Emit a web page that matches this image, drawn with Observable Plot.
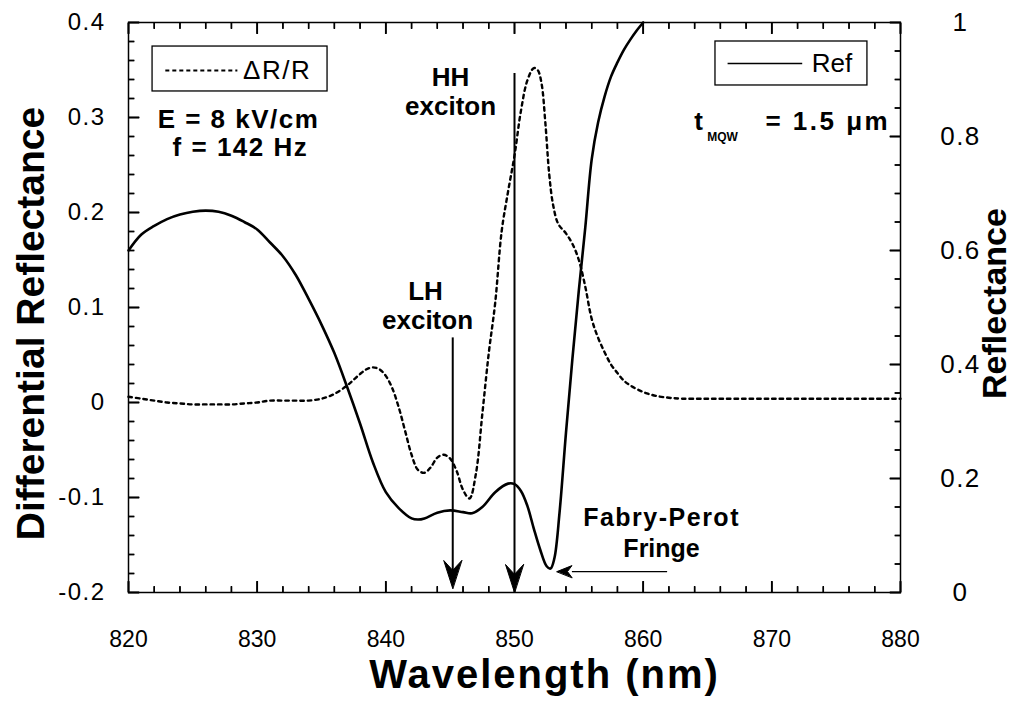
<!DOCTYPE html>
<html>
<head>
<meta charset="utf-8">
<script src="https://cdn.jsdelivr.net/npm/d3@7"></script>
<script src="https://cdn.jsdelivr.net/npm/@observablehq/plot@0.6"></script>
<style>
  html, body { margin: 0; padding: 0; background: #fff; }
  svg { display: block; }
</style>
</head>
<body>
<script>
// ---- Data ----
// Reflectance ("Ref", right axis 0..1)
const refWavelength = [820, 821, 822, 823, 824, 825, 826, 827, 828, 829, 830, 831, 832, 833, 834, 835, 836, 837, 838, 839, 840, 841, 842, 842.5, 843, 844, 845, 846, 846.7, 847.5, 848.5, 849.5, 850, 850.5, 851, 851.5, 852, 852.5, 852.8, 853.1, 853.5, 854, 854.5, 855, 855.5, 856, 856.5, 857, 857.5, 858, 858.5, 859, 859.5, 860];
const refValues = [0.600, 0.628, 0.643, 0.655, 0.663, 0.668, 0.670, 0.668, 0.661, 0.650, 0.637, 0.614, 0.590, 0.557, 0.515, 0.470, 0.420, 0.360, 0.296, 0.228, 0.176, 0.148, 0.130, 0.128, 0.130, 0.140, 0.144, 0.141, 0.139, 0.150, 0.176, 0.191, 0.190, 0.178, 0.152, 0.112, 0.075, 0.046, 0.042, 0.060, 0.140, 0.280, 0.410, 0.530, 0.640, 0.760, 0.825, 0.870, 0.905, 0.930, 0.952, 0.970, 0.986, 1.000];

// Differential reflectance (ΔR/R, left axis)
const drWavelength = [820, 821, 822, 823, 824, 825, 826, 827, 828, 829, 830, 831, 832, 833, 834, 835, 836, 837, 837.5, 838, 838.5, 839, 839.5, 840, 840.5, 841, 841.5, 842, 842.5, 843, 843.5, 844, 844.5, 845, 845.5, 846, 846.5, 847, 847.5, 848, 848.5, 849, 849.5, 850, 850.5, 851, 851.5, 851.8, 852.1, 852.4, 852.7, 853, 853.4, 854, 854.5, 855, 855.5, 856, 856.5, 857, 857.5, 858, 858.5, 859, 860, 861, 862, 863, 865, 870, 875, 880];
const drValues = [0.006, 0.004, 0.002, 0.000, -0.001, -0.002, -0.002, -0.002, -0.002, -0.001, 0.000, 0.002, 0.002, 0.002, 0.002, 0.004, 0.009, 0.018, 0.024, 0.030, 0.035, 0.037, 0.035, 0.028, 0.015, -0.005, -0.030, -0.055, -0.071, -0.074, -0.068, -0.058, -0.055, -0.059, -0.072, -0.092, -0.101, -0.075, -0.012, 0.052, 0.105, 0.180, 0.222, 0.260, 0.307, 0.339, 0.352, 0.350, 0.336, 0.294, 0.240, 0.208, 0.188, 0.178, 0.167, 0.150, 0.122, 0.088, 0.068, 0.053, 0.040, 0.031, 0.023, 0.018, 0.011, 0.007, 0.005, 0.004, 0.004, 0.004, 0.004, 0.004];

// Tick values / labels
const xTicks = [820, 830, 840, 850, 860, 870, 880];
const xMinorTicks = [822, 824, 826, 828, 832, 834, 836, 838, 842, 844, 846, 848, 852, 854, 856, 858, 862, 864, 866, 868, 872, 874, 876, 878];
const leftTicks = [-0.2, -0.1, 0, 0.1, 0.2, 0.3, 0.4];
const leftMinorTicks = [-0.18, -0.16, -0.14, -0.12, -0.08, -0.06, -0.04, -0.02, 0.02, 0.04, 0.06, 0.08, 0.12, 0.14, 0.16, 0.18, 0.22, 0.24, 0.26, 0.28, 0.32, 0.34, 0.36, 0.38];
const rightTicks = [0, 0.2, 0.4, 0.6, 0.8, 1];
const rightMinorTicks = [0.05, 0.1, 0.15, 0.25, 0.3, 0.35, 0.45, 0.5, 0.55, 0.65, 0.7, 0.75, 0.85, 0.9, 0.95];

// Right axis (Reflectance 0..1) mapped onto left axis (-0.2..0.4)
const toLeft = r => r * 0.6 - 0.2;
const toRight = v => (v + 0.2) / 0.6;

const refData = refWavelength.map((w, i) => ({wl: w, r: refValues[i]}));
const drData = drWavelength.map((w, i) => ({wl: w, v: drValues[i]}));

const FONT = "'Liberation Sans', Arial, Helvetica, sans-serif";

const W = 1014, H = 702, ML = 128, MR = 114, MT = 22, MB = 110;
const FW = W - ML - MR, FH = H - MT - MB;
const XA = 820, XB = 880, YA = -0.2, YB = 0.4;
const pxX = p => (XB - XA) * p / FW;
const pxY = p => (YB - YA) * p / FH;

const dart = (w, notch) => ({draw(ctx, l) {
  ctx.moveTo(0, -l); ctx.lineTo(w, 0); ctx.lineTo(0, -l * notch); ctx.lineTo(-w, 0); ctx.closePath();
}});

const fmtLeft = d => Math.abs(d) < 1e-9 ? "0" : String(+d.toFixed(1));
const fmtRight = d => { const r = +toRight(d).toFixed(1); return r === 0 ? "0" : String(r); };
const blank = () => "";

// inward tick segments (tables built from the tick arrays)
const segs = [];
for (const v of xTicks) {
  segs.push({x1: v, x2: v, y1: YA, y2: YA + pxY(11)});
  segs.push({x1: v, x2: v, y1: YB, y2: YB - pxY(11)});
}
for (const v of xMinorTicks) {
  segs.push({x1: v, x2: v, y1: YA, y2: YA + pxY(6)});
  segs.push({x1: v, x2: v, y1: YB, y2: YB - pxY(6)});
}
for (const v of leftTicks) segs.push({x1: XA, x2: XA + pxX(11), y1: v, y2: v});
for (const v of leftMinorTicks) segs.push({x1: XA, x2: XA + pxX(6), y1: v, y2: v});
for (const r of rightTicks) segs.push({x1: XB, x2: XB - pxX(11), y1: toLeft(r), y2: toLeft(r)});
for (const r of rightMinorTicks) segs.push({x1: XB, x2: XB - pxX(6), y1: toLeft(r), y2: toLeft(r)});

// axis-mark ticks shifted inward (tick only, blank text)
const inTicks = (dim, anchor, ticks, len, sw) => {
  const shift = anchor === "bottom" ? {dy: -len} : anchor === "top" ? {dy: len} : anchor === "left" ? {dx: len} : {dx: -len};
  const opts = {anchor, ticks, tickSize: len, tickFormat: blank, label: null, strokeWidth: sw, stroke: "black", ...shift};
  return dim === "x" ? Plot.axisX(opts) : Plot.axisY(opts);
};

const chart = Plot.plot({
  width: W,
  height: H,
  marginLeft: ML,
  marginRight: MR,
  marginTop: MT,
  marginBottom: MB,
  x: {domain: [XA, XB]},
  y: {domain: [YA, YB]},
  style: {fontFamily: FONT, background: "white", color: "black", overflow: "visible"},
  marks: [
    Plot.frame({stroke: "black", strokeWidth: 1.5, fill: "none"}),

    // Axes labels
    Plot.axisX({ticks: xTicks, tickSize: 0, tickPadding: 38, fontSize: 23, label: null, tickFormat: d => String(d)}),
    Plot.axisY({anchor: "left", ticks: leftTicks, tickSize: 0, tickPadding: 23, fontSize: 24, label: null, tickFormat: fmtLeft}),
    Plot.axisY({anchor: "right", ticks: rightTicks.map(toLeft), tickSize: 0, tickPadding: 60, fontSize: 26, label: null, textAnchor: "middle", tickFormat: fmtRight}),

    // inward ticks
    inTicks("x", "bottom", xTicks, 11, 1.8), inTicks("x", "bottom", xMinorTicks, 6, 1.4),
    inTicks("x", "top", xTicks, 11, 1.8), inTicks("x", "top", xMinorTicks, 6, 1.4),
    inTicks("y", "left", leftTicks, 11, 1.8), inTicks("y", "left", leftMinorTicks, 6, 1.4),
    inTicks("y", "right", rightTicks.map(toLeft), 11, 1.8), inTicks("y", "right", rightMinorTicks.map(toLeft), 6, 1.4),
    Plot.link(segs, {x1: "x1", y1: "y1", x2: "x2", y2: "y2", stroke: "#000", strokeWidth: 1.5}),

    // Axis titles
    Plot.text(["Wavelength (nm)"], {frameAnchor: "bottom", dx: 30, dy: 83, fontSize: 40, fontWeight: "bold", lineAnchor: "middle", textAnchor: "middle"}),
    Plot.text(["Differential Reflectance"], {frameAnchor: "left", dx: -97, dy: 16, rotate: -90, fontSize: 39, fontWeight: "bold", lineAnchor: "middle", textAnchor: "middle"}),
    Plot.text(["Reflectance"], {frameAnchor: "right", dx: 95, dy: -4, rotate: -90, fontSize: 34, fontWeight: "bold", lineAnchor: "middle", textAnchor: "middle"}),

    // Data curves
    Plot.line(drData, {x: "wl", y: "v", curve: "catmull-rom", stroke: "black", strokeWidth: 2.4, strokeDasharray: "3.5,4"}),
    Plot.line(refData, {x: "wl", y: d => toLeft(d.r), curve: "catmull-rom", stroke: "black", strokeWidth: 2.6}),

    // Exciton arrows
    Plot.ruleX([845.2], {y1: 0.068, y2: -0.18, stroke: "black", strokeWidth: 2}),
    Plot.vector([845.2], {x: d => d, y: -0.1958, length: 28, rotate: 180, anchor: "end", shape: dart(9, 0.35), fill: "black", stroke: "black", strokeWidth: 1}),
    Plot.ruleX([850], {y1: 0.3463, y2: -0.185, stroke: "black", strokeWidth: 2}),
    Plot.vector([850], {x: d => d, y: -0.2, length: 28, rotate: 180, anchor: "end", shape: dart(9, 0.35), fill: "black", stroke: "black", strokeWidth: 1}),

    // Fabry-Perot arrow
    Plot.ruleY([-0.178], {x1: 861.9, x2: 854.5, stroke: "black", strokeWidth: 1.2}),
    Plot.vector([853.3], {x: d => d, y: -0.178, length: 15, rotate: -90, anchor: "end", shape: dart(6, 0.3), fill: "black", stroke: "black", strokeWidth: 1}),

    // Annotation texts
    Plot.text(["HH"], {x: 845.03, y: 0.342, fontSize: 26, fontWeight: "bold"}),
    Plot.text(["exciton"], {x: 845.03, y: 0.3116, fontSize: 26, fontWeight: "bold"}),
    Plot.text(["LH"], {x: 843.08, y: 0.1168, fontSize: 26, fontWeight: "bold"}),
    Plot.text(["exciton"], {x: 843.24, y: 0.0863, fontSize: 26, fontWeight: "bold"}),
    Plot.text(["Fabry-Perot"], {x: 861.43, y: -0.1221, fontSize: 25, fontWeight: "bold"}),
    Plot.text(["Fringe"], {x: 861.43, y: -0.1537, fontSize: 25, fontWeight: "bold"}),
    Plot.text(["E = 8 kV/cm"], {x: 828.55, y: 0.2979, fontSize: 26, fontWeight: "bold"}),
    Plot.text(["f = 142 Hz"], {x: 828.7, y: 0.2684, fontSize: 26, fontWeight: "bold"}),
    Plot.text(["t"], {x: 864.3, y: 0.2958, fontSize: 26, fontWeight: "bold"}),
    Plot.text(["MQW"], {x: 866.17, y: 0.279, fontSize: 12, fontWeight: "bold"}),
    Plot.text(["= 1.5 μm"], {x: 869.5, y: 0.2958, fontSize: 26, fontWeight: "bold", textAnchor: "start"}),

    // Legend boxes
    Plot.rect([0], {x1: 821.87, x2: 835.47, y1: 0.3274, y2: 0.3747, fill: "white", stroke: "black", strokeWidth: 1.3}),
    Plot.ruleY([0.3495], {x1: 822.9, x2: 828.5, stroke: "black", strokeWidth: 1.8, strokeDasharray: "4,3"}),
    Plot.text(["ΔR/R"], {x: 828.9, y: 0.3495, fontSize: 26, textAnchor: "start"}),
    Plot.rect([0], {x1: 865.62, x2: 877.43, y1: 0.3337, y2: 0.380, fill: "white", stroke: "black", strokeWidth: 1.3}),
    Plot.ruleY([0.3568], {x1: 866.6, x2: 872.4, stroke: "black", strokeWidth: 1.5}),
    Plot.text(["Ref"], {x: 873.1, y: 0.3568, fontSize: 26, textAnchor: "start"})
  ]
});

// Wider letter spacing to mimic the original typeface
const sel = d3.select(chart);
sel.selectAll('g[aria-label="y-axis tick label"]').attr("letter-spacing", "1.5px");
const spaced = {"Wavelength (nm)": 2, "E = 8 kV/cm": 1.5, "f = 142 Hz": 1.5, "Fabry-Perot": 1.5, "= 1.5 μm": 2.5, "ΔR/R": 1.5};
sel.selectAll("text").each(function() {
  const t = this.textContent;
  if (t in spaced) this.setAttribute("letter-spacing", spaced[t] + "px");
});

document.body.appendChild(chart);
</script>
</body>
</html>
